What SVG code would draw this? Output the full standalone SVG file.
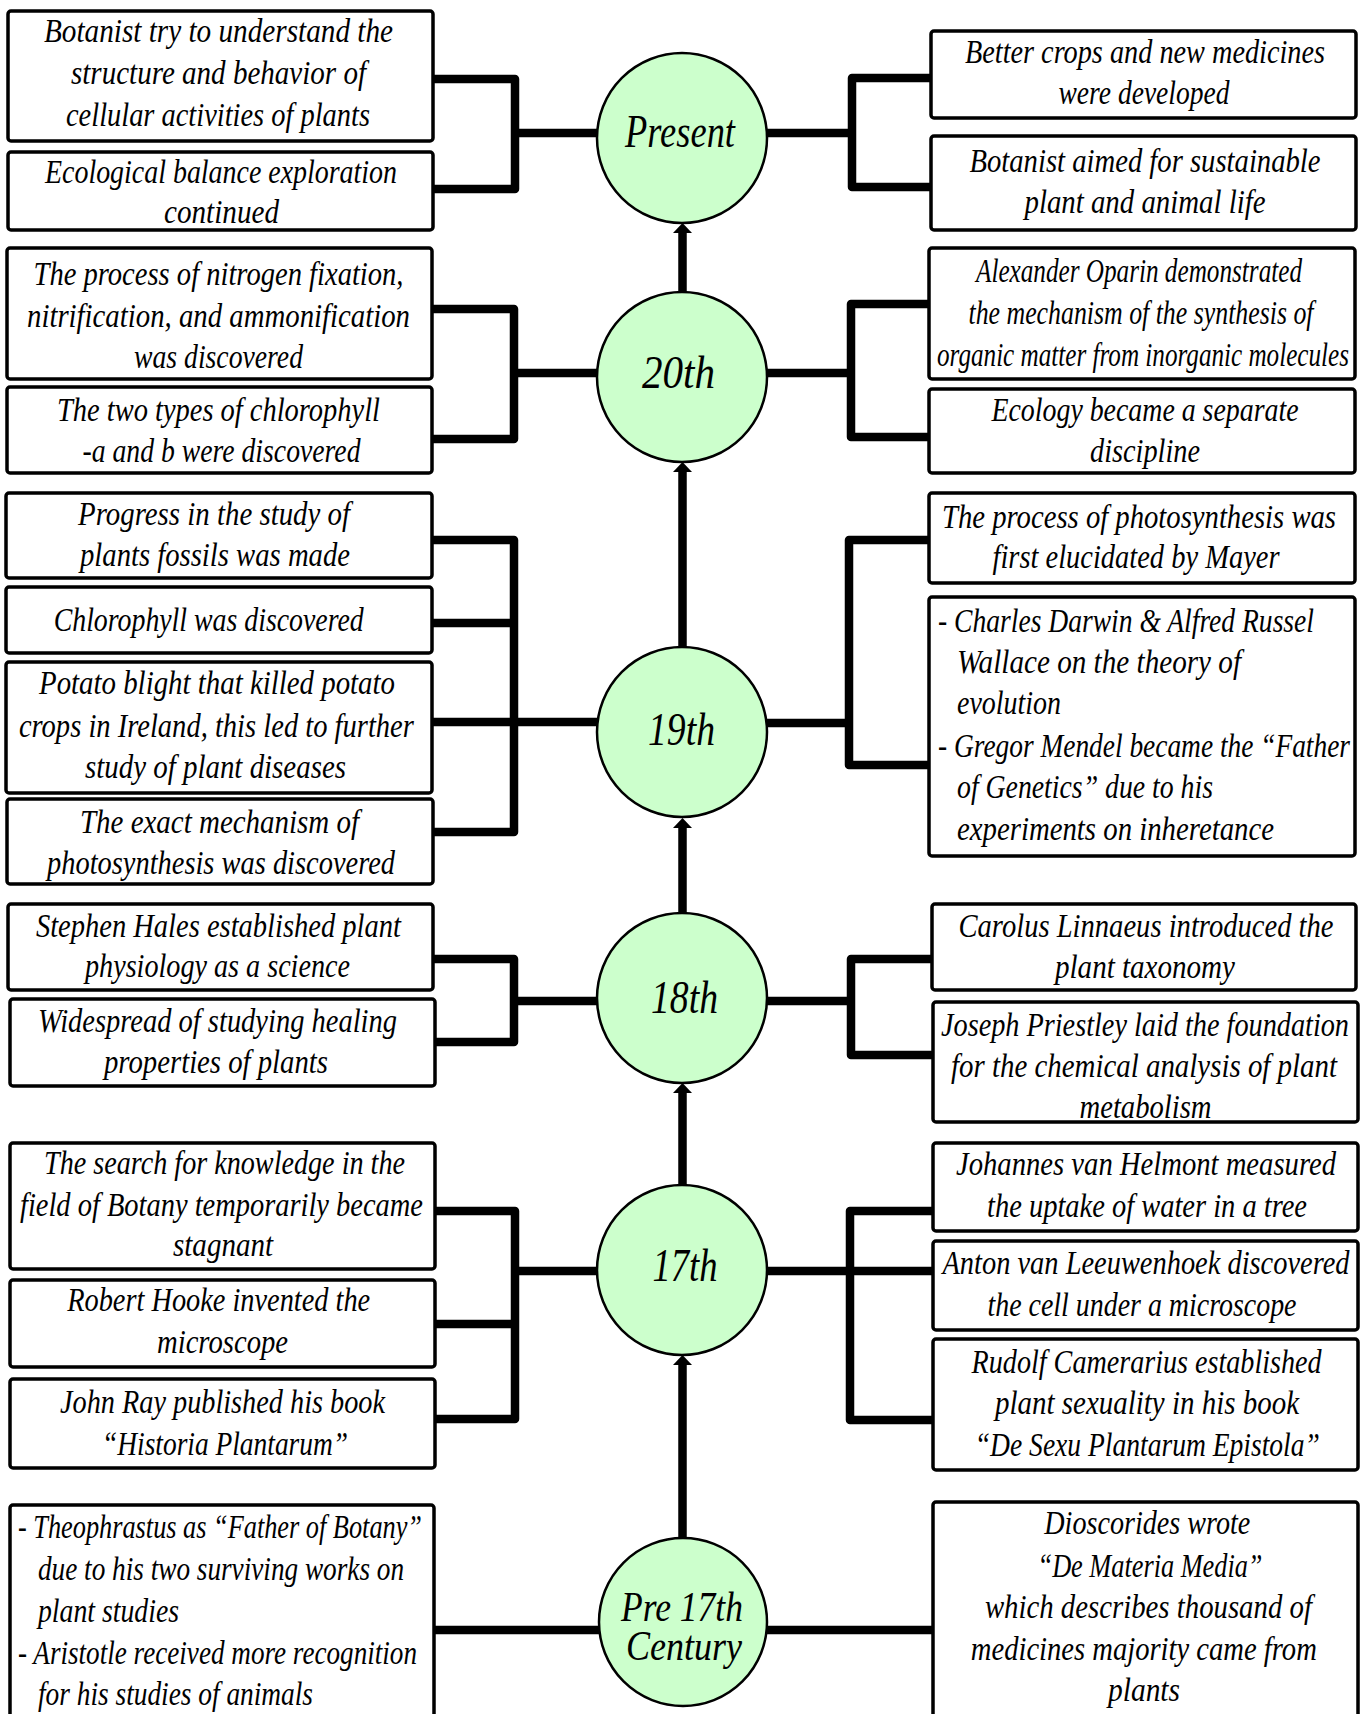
<svg xmlns="http://www.w3.org/2000/svg" width="1368" height="1714" viewBox="0 0 1368 1714">
<defs>
<style>
.box{fill:#fff;stroke:#000;stroke-width:3.5}
.era{fill:#ccffcc;stroke:#000;stroke-width:2.5}
.ln{fill:none;stroke:#000;stroke-width:8.5;stroke-linejoin:round}
.t{font-family:"Liberation Serif",serif;font-style:italic;font-size:34px;text-anchor:middle;fill:#000}
.s{font-family:"Liberation Serif",serif;font-style:italic;font-size:34px;text-anchor:start;fill:#000}
.c{font-family:"Liberation Serif",serif;font-style:italic;font-size:46px;text-anchor:middle;fill:#000}
</style>
<marker id="arrow" markerUnits="userSpaceOnUse" viewBox="0 -10 10 20" refX="0" refY="0" markerWidth="10" markerHeight="20" orient="auto"><path d="M0,-9.5 L10,0 L0,9.5 Z" fill="#000"/></marker>
</defs>
<rect width="1368" height="1714" fill="#fff"/>
<g id="connectors">
<path class="ln" d="M433,79 H515 V189 H433 M515,133 H598"/>
<path class="ln" d="M931,78 H852 V187 H931 M852,133 H766"/>
<path class="ln" d="M432,309 H514 V439 H432 M514,373 H598"/>
<path class="ln" d="M929,304 H851 V437 H929 M851,373 H766"/>
<path class="ln" d="M432,540 H514 V832 H432 M432,623 H514 M432,722 H598"/>
<path class="ln" d="M929,540 H849 V765 H929 M849,723 H766"/>
<path class="ln" d="M433,959 H514 V1042 H435 M514,1001 H598"/>
<path class="ln" d="M932,959 H851 V1055 H933 M851,1001 H766"/>
<path class="ln" d="M435,1211 H515 V1419 H435 M435,1324 H515 M515,1271 H598"/>
<path class="ln" d="M933,1211 H850 V1420 H933 M766,1271 H933"/>
<path class="ln" d="M434,1630 H599"/>
<path class="ln" d="M767,1630 H933"/>
<path class="ln" d="M682.5,292 V233" marker-end="url(#arrow)"/>
<path class="ln" d="M682.5,647 V472" marker-end="url(#arrow)"/>
<path class="ln" d="M682.5,913 V828" marker-end="url(#arrow)"/>
<path class="ln" d="M682.5,1185 V1093" marker-end="url(#arrow)"/>
<path class="ln" d="M682.5,1538 V1365" marker-end="url(#arrow)"/>
</g>
<g id="era-present"><circle class="era" cx="682" cy="138" r="85"/><text class="c" x="680" y="147" textLength="110" lengthAdjust="spacingAndGlyphs">Present</text></g>
<g id="era-20th"><circle class="era" cx="682" cy="377" r="85"/><text class="c" x="678.5" y="388" textLength="73" lengthAdjust="spacingAndGlyphs">20th</text></g>
<g id="era-19th"><circle class="era" cx="682" cy="732" r="85"/><text class="c" x="681.5" y="745" textLength="67" lengthAdjust="spacingAndGlyphs">19th</text></g>
<g id="era-18th"><circle class="era" cx="682" cy="998" r="85"/><text class="c" x="684.5" y="1013" textLength="67" lengthAdjust="spacingAndGlyphs">18th</text></g>
<g id="era-17th"><circle class="era" cx="682" cy="1270" r="85"/><text class="c" x="685" y="1281" textLength="65" lengthAdjust="spacingAndGlyphs">17th</text></g>
<g id="era-pre17"><circle class="era" cx="683" cy="1622" r="84"/><text class="c" style="font-size:42px" x="682" y="1621" textLength="122" lengthAdjust="spacingAndGlyphs">Pre 17th</text><text class="c" style="font-size:42px" x="684" y="1660" textLength="116" lengthAdjust="spacingAndGlyphs">Century</text></g>

<g id="present-l1"><rect class="box" x="8" y="11" width="425" height="130" rx="3"/>
<text class="t" x="218.5" y="42" textLength="349" lengthAdjust="spacingAndGlyphs">Botanist try to understand the</text>
<text class="t" x="218.5" y="84" textLength="295" lengthAdjust="spacingAndGlyphs">structure and behavior of</text>
<text class="t" x="218" y="126" textLength="304" lengthAdjust="spacingAndGlyphs">cellular activities of plants</text></g>
<g id="present-l2"><rect class="box" x="8" y="152" width="425" height="78" rx="3"/>
<text class="t" x="221" y="183" textLength="352" lengthAdjust="spacingAndGlyphs">Ecological balance exploration</text>
<text class="t" x="221.5" y="223" textLength="115" lengthAdjust="spacingAndGlyphs">continued</text></g>
<g id="present-r1"><rect class="box" x="931" y="31" width="425" height="87" rx="3"/>
<text class="t" x="1145" y="63" textLength="360" lengthAdjust="spacingAndGlyphs">Better crops and new medicines</text>
<text class="t" x="1144" y="104" textLength="171" lengthAdjust="spacingAndGlyphs">were developed</text></g>
<g id="present-r2"><rect class="box" x="931" y="136" width="425" height="94" rx="3"/>
<text class="t" x="1145" y="172" textLength="351" lengthAdjust="spacingAndGlyphs">Botanist aimed for sustainable</text>
<text class="t" x="1145" y="213" textLength="241" lengthAdjust="spacingAndGlyphs">plant and animal life</text></g>

<g id="c20-l1"><rect class="box" x="7" y="248" width="425" height="131" rx="3"/>
<text class="t" x="218.5" y="285" textLength="370" lengthAdjust="spacingAndGlyphs">The process of nitrogen fixation,</text>
<text class="t" x="218.5" y="327" textLength="383" lengthAdjust="spacingAndGlyphs">nitrification, and ammonification</text>
<text class="t" x="218.5" y="368" textLength="169" lengthAdjust="spacingAndGlyphs">was discovered</text></g>
<g id="c20-l2"><rect class="box" x="7" y="387" width="425" height="86" rx="3"/>
<text class="t" x="218.5" y="421" textLength="323" lengthAdjust="spacingAndGlyphs">The two types of chlorophyll</text>
<text class="t" x="221.5" y="462" textLength="278" lengthAdjust="spacingAndGlyphs">-a and b were discovered</text></g>
<g id="c20-r1"><rect class="box" x="929" y="248" width="426" height="131" rx="3"/>
<text class="t" x="1139" y="282" textLength="326" lengthAdjust="spacingAndGlyphs">Alexander Oparin demonstrated</text>
<text class="t" x="1141" y="324" textLength="345" lengthAdjust="spacingAndGlyphs">the mechanism of the synthesis of</text>
<text class="t" x="1143" y="366" textLength="412" lengthAdjust="spacingAndGlyphs">organic matter from inorganic molecules</text></g>
<g id="c20-r2"><rect class="box" x="929" y="389" width="426" height="84" rx="3"/>
<text class="t" x="1145" y="421" textLength="307" lengthAdjust="spacingAndGlyphs">Ecology became a separate</text>
<text class="t" x="1145" y="462" textLength="110" lengthAdjust="spacingAndGlyphs">discipline</text></g>

<g id="c19-l1"><rect class="box" x="6" y="493" width="426" height="85" rx="3"/>
<text class="t" x="214" y="525" textLength="272" lengthAdjust="spacingAndGlyphs">Progress in the study of</text>
<text class="t" x="215" y="566" textLength="270" lengthAdjust="spacingAndGlyphs">plants fossils was made</text></g>
<g id="c19-l2"><rect class="box" x="6" y="587" width="426" height="66" rx="3"/>
<text class="t" x="208.7" y="631" textLength="310" lengthAdjust="spacingAndGlyphs">Chlorophyll was discovered</text></g>
<g id="c19-l3"><rect class="box" x="6" y="662" width="426" height="131" rx="3"/>
<text class="t" x="217" y="694" textLength="356" lengthAdjust="spacingAndGlyphs">Potato blight that killed potato</text>
<text class="t" x="216.4" y="737" textLength="395" lengthAdjust="spacingAndGlyphs">crops in Ireland, this led to further</text>
<text class="t" x="215.5" y="778" textLength="261" lengthAdjust="spacingAndGlyphs">study of plant diseases</text></g>
<g id="c19-l4"><rect class="box" x="7" y="799" width="426" height="85" rx="3"/>
<text class="t" x="219.5" y="833" textLength="279" lengthAdjust="spacingAndGlyphs">The exact mechanism of</text>
<text class="t" x="221" y="874" textLength="348" lengthAdjust="spacingAndGlyphs">photosynthesis was discovered</text></g>
<g id="c19-r1"><rect class="box" x="929" y="493" width="426" height="90" rx="3"/>
<text class="t" x="1139" y="528" textLength="394" lengthAdjust="spacingAndGlyphs">The process of photosynthesis was</text>
<text class="t" x="1136" y="568" textLength="287" lengthAdjust="spacingAndGlyphs">first elucidated by Mayer</text></g>
<g id="c19-r2"><rect class="box" x="929" y="597" width="426" height="259" rx="3"/>
<text class="s" x="938" y="632" textLength="376" lengthAdjust="spacingAndGlyphs">- Charles Darwin &amp; Alfred Russel</text>
<text class="s" x="957" y="673" textLength="284" lengthAdjust="spacingAndGlyphs">Wallace on the theory of</text>
<text class="s" x="957" y="714" textLength="104" lengthAdjust="spacingAndGlyphs">evolution</text>
<text class="s" x="938" y="757" textLength="412" lengthAdjust="spacingAndGlyphs">- Gregor Mendel became the “Father</text>
<text class="s" x="957" y="798" textLength="256" lengthAdjust="spacingAndGlyphs">of Genetics” due to his</text>
<text class="s" x="957" y="840" textLength="317" lengthAdjust="spacingAndGlyphs">experiments on inheretance</text></g>

<g id="c18-l1"><rect class="box" x="8" y="904" width="425" height="86" rx="3"/>
<text class="t" x="218.4" y="937" textLength="365" lengthAdjust="spacingAndGlyphs">Stephen Hales established plant</text>
<text class="t" x="217.5" y="977" textLength="265" lengthAdjust="spacingAndGlyphs">physiology as a science</text></g>
<g id="c18-l2"><rect class="box" x="10" y="999" width="425" height="87" rx="3"/>
<text class="t" x="217.5" y="1032" textLength="359" lengthAdjust="spacingAndGlyphs">Widespread of studying healing</text>
<text class="t" x="216" y="1073" textLength="224" lengthAdjust="spacingAndGlyphs">properties of plants</text></g>
<g id="c18-r1"><rect class="box" x="932" y="904" width="424" height="86" rx="3"/>
<text class="t" x="1146" y="937" textLength="375" lengthAdjust="spacingAndGlyphs">Carolus Linnaeus introduced the</text>
<text class="t" x="1145" y="978" textLength="180" lengthAdjust="spacingAndGlyphs">plant taxonomy</text></g>
<g id="c18-r2"><rect class="box" x="933" y="1002" width="425" height="120" rx="3"/>
<text class="t" x="1145" y="1036" textLength="408" lengthAdjust="spacingAndGlyphs">Joseph Priestley laid the foundation</text>
<text class="t" x="1144" y="1077" textLength="386" lengthAdjust="spacingAndGlyphs">for the chemical analysis of plant</text>
<text class="t" x="1145.5" y="1118" textLength="132" lengthAdjust="spacingAndGlyphs">metabolism</text></g>

<g id="c17-l1"><rect class="box" x="10" y="1143" width="425" height="126" rx="3"/>
<text class="t" x="224.5" y="1174" textLength="361" lengthAdjust="spacingAndGlyphs">The search for knowledge in the</text>
<text class="t" x="221.5" y="1216" textLength="403" lengthAdjust="spacingAndGlyphs">field of Botany temporarily became</text>
<text class="t" x="223" y="1256" textLength="100" lengthAdjust="spacingAndGlyphs">stagnant</text></g>
<g id="c17-l2"><rect class="box" x="10" y="1280" width="425" height="87" rx="3"/>
<text class="t" x="218.7" y="1311" textLength="303" lengthAdjust="spacingAndGlyphs">Robert Hooke invented the</text>
<text class="t" x="222.5" y="1353" textLength="131" lengthAdjust="spacingAndGlyphs">microscope</text></g>
<g id="c17-l3"><rect class="box" x="10" y="1379" width="425" height="89" rx="3"/>
<text class="t" x="222.5" y="1413" textLength="325" lengthAdjust="spacingAndGlyphs">John Ray published his book</text>
<text class="t" x="225" y="1455" textLength="246" lengthAdjust="spacingAndGlyphs">“Historia Plantarum”</text></g>
<g id="c17-r1"><rect class="box" x="933" y="1143" width="425" height="88" rx="3"/>
<text class="t" x="1146" y="1175" textLength="380" lengthAdjust="spacingAndGlyphs">Johannes van Helmont measured</text>
<text class="t" x="1147" y="1217" textLength="320" lengthAdjust="spacingAndGlyphs">the uptake of water in a tree</text></g>
<g id="c17-r2"><rect class="box" x="933" y="1241" width="425" height="89" rx="3"/>
<text class="t" x="1146" y="1274" textLength="407" lengthAdjust="spacingAndGlyphs">Anton van Leeuwenhoek discovered</text>
<text class="t" x="1142" y="1316" textLength="309" lengthAdjust="spacingAndGlyphs">the cell under a microscope</text></g>
<g id="c17-r3"><rect class="box" x="933" y="1339" width="425" height="131" rx="3"/>
<text class="t" x="1146.6" y="1373" textLength="350" lengthAdjust="spacingAndGlyphs">Rudolf Camerarius established</text>
<text class="t" x="1147" y="1414" textLength="304" lengthAdjust="spacingAndGlyphs">plant sexuality in his book</text>
<text class="t" x="1147.3" y="1456" textLength="345" lengthAdjust="spacingAndGlyphs">“De Sexu Plantarum Epistola”</text></g>

<g id="pre17-l1"><rect class="box" x="10" y="1505" width="424" height="225" rx="3"/>
<text class="s" x="18" y="1538" textLength="404" lengthAdjust="spacingAndGlyphs">- Theophrastus as “Father of Botany”</text>
<text class="s" x="38" y="1580" textLength="366" lengthAdjust="spacingAndGlyphs">due to his two surviving works on</text>
<text class="s" x="38" y="1622" textLength="141" lengthAdjust="spacingAndGlyphs">plant studies</text>
<text class="s" x="18" y="1664" textLength="399" lengthAdjust="spacingAndGlyphs">- Aristotle received more recognition</text>
<text class="s" x="38" y="1705" textLength="275" lengthAdjust="spacingAndGlyphs">for his studies of animals</text></g>
<g id="pre17-r1"><rect class="box" x="933" y="1502" width="425" height="228" rx="3"/>
<text class="t" x="1147.3" y="1534" textLength="206" lengthAdjust="spacingAndGlyphs">Dioscorides wrote</text>
<text class="t" x="1150" y="1577" textLength="225" lengthAdjust="spacingAndGlyphs">“De Materia Media”</text>
<text class="t" x="1148.4" y="1618" textLength="327" lengthAdjust="spacingAndGlyphs">which describes thousand of</text>
<text class="t" x="1143.8" y="1660" textLength="346" lengthAdjust="spacingAndGlyphs">medicines majority came from</text>
<text class="t" x="1144" y="1701" textLength="72" lengthAdjust="spacingAndGlyphs">plants</text></g>
</svg>
